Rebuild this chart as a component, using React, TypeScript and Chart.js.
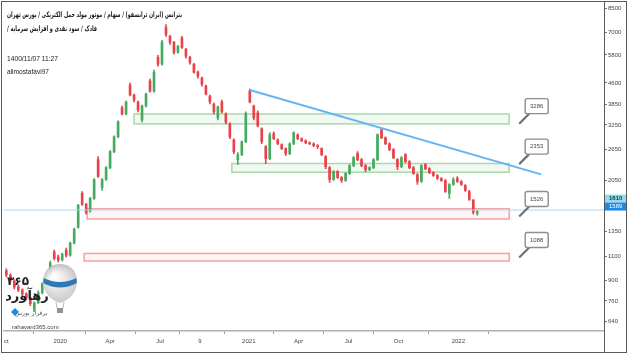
import React, { useEffect, useRef } from 'react';
import { Chart, registerables } from 'chart.js';
Chart.register(...registerables);

// ---- candle data (ایران ترانسفو) ----
const opens = [
  974, 942, 897, 854, 833, 806, 781, 707, 749, 813,
  875, 942, 1138, 1092, 1066, 1157, 1110, 1226, 1397, 1847,
  1687, 1594, 1772, 2441, 1940, 2072, 2286, 2607, 2949, 3741,
  3561, 4519, 4162, 3930, 3390, 3803, 4670, 4301, 5685, 5368,
  7272, 6754, 6430, 5923, 6645, 6071, 5685, 5368, 5027, 4786,
  4482, 4128, 3866, 3446, 3930, 3561, 3281, 2877, 2441, 2544,
  2830, 4301, 3803, 3591, 3149, 2717, 2462, 3022, 2877, 2762,
  2672, 2565, 2784, 2998, 2901, 2854, 2807, 2784, 2739, 2672,
  2502, 2286, 2072, 2212, 2106, 2055, 2176, 2324, 2565, 2441,
  2324, 2249, 2286, 2441, 3123, 2925, 2784, 2650, 2441, 2305,
  2544, 2402, 2286, 2159, 2038, 2343, 2267, 2194, 2141, 2089,
  2055, 1847, 1988, 2089, 2038, 1972, 1877, 1744, 1568,
];
const highs = [
  990, 950, 904, 868, 840, 813, 787, 755, 826, 882,
  958, 1057, 1157, 1110, 1129, 1176, 1236, 1386, 1687, 1877,
  1701, 1787, 2089, 2502, 2089, 2305, 2629, 2973, 3362, 3803,
  3962, 4594, 4196, 3962, 3834, 4231, 4747, 5110, 5779, 6537,
  7454, 6810, 6484, 6274, 6754, 6121, 5732, 5412, 5069, 4825,
  4519, 4162, 3898, 3803, 3995, 3591, 3308, 2901, 2586, 2854,
  3620, 4372, 3834, 3650, 3175, 2739, 3047, 3072, 2901, 2784,
  2694, 2807, 3072, 3022, 2925, 2877, 2830, 2807, 2762, 2694,
  2523, 2305, 2230, 2230, 2124, 2194, 2343, 2502, 2607, 2462,
  2343, 2305, 2462, 3022, 3175, 2949, 2807, 2672, 2462, 2502,
  2565, 2421, 2305, 2176, 2343, 2363, 2286, 2212, 2159, 2106,
  2072, 2005, 2106, 2124, 2055, 1988, 1893, 1758, 1607,
];
const lows = [
  927, 882, 840, 820, 793, 768, 731, 696, 743, 806,
  868, 934, 1066, 1048, 1057, 1092, 1101, 1216, 1386, 1673,
  1555, 1581, 1758, 2106, 1893, 2055, 2267, 2586, 2925, 3532,
  3532, 4128, 3930, 3620, 3335, 3772, 4266, 4266, 5281, 5324,
  6754, 6325, 5827, 5875, 6121, 5639, 5368, 4986, 4786, 4482,
  4162, 3866, 3561, 3390, 3591, 3281, 2901, 2565, 2343, 2523,
  2807, 3898, 3390, 3201, 2784, 2363, 2441, 2877, 2762, 2650,
  2523, 2544, 2762, 2877, 2830, 2784, 2762, 2717, 2672, 2523,
  2267, 2021, 2055, 2089, 2021, 2038, 2159, 2305, 2421, 2305,
  2212, 2230, 2267, 2421, 2901, 2762, 2629, 2462, 2249, 2286,
  2382, 2267, 2159, 1988, 2021, 2249, 2176, 2124, 2072, 2038,
  1862, 1772, 1972, 2021, 1972, 1877, 1744, 1555, 1542,
];
const closes = [
  942, 897, 854, 833, 806, 781, 743, 749, 813, 875,
  942, 1039, 1083, 1066, 1119, 1110, 1226, 1374, 1673, 1687,
  1581, 1772, 2072, 2124, 2072, 2286, 2607, 2949, 3335, 3561,
  3930, 4162, 3995, 3680, 3803, 4196, 4301, 5027, 5368, 6430,
  6866, 6430, 5923, 6222, 6171, 5732, 5457, 5027, 4865, 4556,
  4196, 3930, 3620, 3772, 3620, 3335, 2949, 2607, 2544, 2830,
  3561, 3930, 3446, 3227, 2830, 2462, 2998, 2901, 2784, 2672,
  2565, 2784, 3047, 2901, 2854, 2807, 2784, 2739, 2717, 2544,
  2305, 2072, 2212, 2106, 2055, 2176, 2324, 2482, 2441, 2324,
  2249, 2286, 2441, 2998, 2925, 2784, 2650, 2482, 2305, 2482,
  2402, 2286, 2176, 2038, 2324, 2267, 2194, 2141, 2089, 2055,
  1877, 1988, 2072, 2038, 1988, 1893, 1758, 1581, 1589,
];

// ---- axes ----
const xTickPositions = [0, 13.5, 26, 38.5, 48.5, 60.75, 73.25, 85.75, 98.25, 113.25];
const xTickLabels = ['ct', '2020', 'Apr', 'Jul', '9', '2021', 'Apr', 'Jul', 'Oct', '2022'];
const yTickValues = [8500, 7000, 5800, 4600, 3850, 3250, 2650, 2050, 1350, 1100, 900, 760, 640];

// ---- drawings ----
const zoneStarts = [32, 56.5, 20.25, 19.5];
const zoneEnds = [126, 126, 126, 126];
const zoneHighs = [3560, 2365, 1628, 1125];
const zoneLows = [3280, 2200, 1495, 1057];
const zoneKinds = ['green', 'green', 'red', 'red'];
const calloutValues = [3286, 2353, 1526, 1088];
const calloutX = 128.5;
const trendX = [61, 134];
const trendY = [4340, 2162];
const hLineValue = 1610;
const lastPrice = 1589;

const titleLine1 = 'بترانس (ایران ترانسفو) / سهام / موتور مولد حمل الکتریکی / بورس تهران';
const titleLine2 = 'فادک / سود نقدی و افزایش سرمایه /';
const dateText = '1400/11/07 11:27';
const userText = 'alimostafavi97';

const UP = '#46ab60';
const DOWN = '#e8424a';
const SANS = '"Liberation Sans", Arial, sans-serif';
const FA = '"DejaVu Sans", sans-serif';

function fitText(ctx: CanvasRenderingContext2D, text: string, xLeft: number, y: number, width: number, size: number, weight: string, family: string, color: string, rtl: boolean) {
  ctx.save();
  ctx.font = `${weight} ${size}px ${family}`;
  ctx.direction = rtl ? 'rtl' : 'ltr';
  const w = ctx.measureText(text).width;
  const sx = width / w;
  ctx.translate(xLeft, y);
  ctx.scale(sx, 1);
  ctx.textAlign = 'left';
  ctx.textBaseline = 'middle';
  ctx.fillStyle = color;
  ctx.fillText(text, 0, 0);
  ctx.restore();
}

const decor = {
  id: 'decor',
  beforeDatasetsDraw(chart: any) {
    const { ctx, scales } = chart;
    const x = scales.x, y = scales.y;
    ctx.save();
    for (let k = 0; k < zoneStarts.length; k++) {
      const x1 = x.getPixelForValue(zoneStarts[k]);
      const x2 = x.getPixelForValue(zoneEnds[k]);
      const y1 = y.getPixelForValue(zoneHighs[k]);
      const y2 = y.getPixelForValue(zoneLows[k]);
      const green = zoneKinds[k] === 'green';
      ctx.fillStyle = green ? 'rgba(129,199,132,0.10)' : 'rgba(239,83,80,0.06)';
      ctx.fillRect(x1, y1, x2 - x1, y2 - y1);
      ctx.strokeStyle = green ? '#a9d8aa' : '#f3a3a3';
      ctx.lineWidth = 1.5;
      ctx.strokeRect(x1, y1, x2 - x1, y2 - y1);
    }
    ctx.restore();
  },
  afterDraw(chart: any) {
    const { ctx, scales } = chart;
    const x = scales.x, y = scales.y;
    const area = chart.chartArea;
    ctx.save();

    // callouts
    for (const v of calloutValues) {
      const ax = x.getPixelForValue(calloutX);
      const ay = y.getPixelForValue(v);
      const left = ax + 6, bottom = ay - 10, w = 23, h = 15;
      ctx.strokeStyle = '#6f6f6f';
      ctx.lineWidth = 2.2;
      ctx.beginPath();
      ctx.moveTo(ax, ay);
      ctx.lineTo(left + 4, bottom);
      ctx.stroke();
      ctx.fillStyle = '#ffffff';
      ctx.strokeStyle = '#8d8d8d';
      ctx.lineWidth = 1.4;
      ctx.beginPath();
      (ctx as any).roundRect(left, bottom - h, w, h, 2);
      ctx.fill();
      ctx.stroke();
      ctx.fillStyle = '#3d4a55';
      ctx.font = `6px ${SANS}`;
      ctx.textAlign = 'center';
      ctx.textBaseline = 'middle';
      ctx.fillText(String(v), left + w / 2, bottom - h / 2);
    }

    // price labels on axis
    const lx = area.right + 1;
    const yh = y.getPixelForValue(hLineValue);
    ctx.fillStyle = '#8fdbe6';
    ctx.fillRect(lx, yh - 15.5, 21, 8);
    ctx.fillStyle = '#1e88e5';
    ctx.fillRect(lx, yh - 7.5, 21, 8);
    ctx.font = `bold 6px ${SANS}`;
    ctx.textAlign = 'left';
    ctx.textBaseline = 'middle';
    ctx.fillStyle = '#1b3a4b';
    ctx.fillText(String(hLineValue), lx + 4, yh - 11.5);
    ctx.fillStyle = '#ffffff';
    ctx.font = `6px ${SANS}`;
    ctx.fillText(String(lastPrice), lx + 4, yh - 3.5);

    // frame
    ctx.strokeStyle = '#5a5a5a';
    ctx.lineWidth = 1;
    ctx.strokeRect(1.5, 1.5, 625, 351);
    ctx.beginPath();
    ctx.moveTo(area.right + 0.5, 1.5);
    ctx.lineTo(area.right + 0.5, 352.5);
    ctx.stroke();

    // header texts
    fitText(ctx, titleLine1, 7, 15, 175, 7.5, 'bold', FA, '#1a1a1a', true);
    fitText(ctx, titleLine2, 7, 29, 90, 7.5, 'bold', FA, '#1a1a1a', true);
    fitText(ctx, dateText, 7, 59, 51, 7, 'normal', SANS, '#222', false);
    fitText(ctx, userText, 7, 72, 42, 7, 'normal', SANS, '#222', false);

    // watermark logo
    ctx.globalAlpha = 0.92;
    const grad = ctx.createRadialGradient(54, 276, 2, 60, 285, 21);
    grad.addColorStop(0, '#ffffff');
    grad.addColorStop(1, '#bcbcbc');
    ctx.beginPath();
    ctx.moveTo(60, 303);
    ctx.bezierCurveTo(50, 300, 43, 292, 43, 281);
    ctx.bezierCurveTo(43, 270, 51, 264, 60, 264);
    ctx.bezierCurveTo(69, 264, 77, 270, 77, 281);
    ctx.bezierCurveTo(77, 292, 70, 300, 60, 303);
    ctx.closePath();
    ctx.fillStyle = grad;
    ctx.fill();
    ctx.beginPath();
    ctx.moveTo(43.5, 278);
    ctx.quadraticCurveTo(60, 286, 76.5, 278);
    ctx.lineTo(76.8, 283);
    ctx.quadraticCurveTo(60, 292, 43.2, 283);
    ctx.closePath();
    ctx.fillStyle = '#1f6fb2';
    ctx.fill();
    ctx.strokeStyle = '#9a9a9a';
    ctx.lineWidth = 0.8;
    ctx.beginPath();
    ctx.moveTo(56, 302); ctx.lineTo(57, 308);
    ctx.moveTo(64, 302); ctx.lineTo(63, 308);
    ctx.stroke();
    ctx.fillStyle = '#8a8a8a';
    ctx.fillRect(57, 308, 6, 5);
    ctx.globalAlpha = 1;
    ctx.fillStyle = '#222';
    ctx.textAlign = 'center';
    ctx.textBaseline = 'middle';
    ctx.direction = 'rtl';
    ctx.font = `bold 12px ${FA}`;
    ctx.fillText('۳۶۵', 18, 282);
    ctx.font = `bold 13px ${FA}`;
    ctx.fillText('رهآورد', 27, 297);
    ctx.font = `6px ${FA}`;
    ctx.fillStyle = '#555';
    ctx.fillText('برفراز بورس', 31, 313);
    ctx.direction = 'ltr';
    ctx.fillStyle = '#1e88e5';
    ctx.beginPath();
    ctx.moveTo(15, 308); ctx.lineTo(19, 312); ctx.lineTo(15, 316); ctx.lineTo(11, 312);
    ctx.closePath();
    ctx.fill();
    ctx.fillStyle = '#444';
    ctx.font = `6px ${SANS}`;
    ctx.textAlign = 'left';
    ctx.fillText('rahavard365.com', 12, 327.5);

    ctx.restore();
  },
};

export default function App() {
  const ref = useRef<HTMLCanvasElement>(null);
  useEffect(() => {
    const canvas = ref.current!;
    const idx = closes.map((_, i) => i);
    const colors = idx.map((i) => (closes[i] >= opens[i] ? UP : DOWN));
    const chart = new Chart(canvas, {
      type: 'bar',
      data: {
        datasets: [
          {
            type: 'line',
            data: [{ x: trendX[0], y: trendY[0] }, { x: trendX[1], y: trendY[1] }],
            borderColor: '#64b5f6',
            borderWidth: 2,
            pointRadius: 0,
            order: 0,
          } as any,
          {
            type: 'line',
            data: [{ x: -0.75, y: hLineValue }, { x: 149.75, y: hLineValue }],
            borderColor: '#a9daec',
            borderWidth: 1,
            pointRadius: 0,
            order: 0,
          } as any,
          {
            type: 'bar',
            data: idx.map((i) => ({ x: i, y: [opens[i], closes[i]] })),
            backgroundColor: colors,
            barThickness: 2,
            minBarLength: 1,
            grouped: false,
            order: 1,
          } as any,
          {
            type: 'bar',
            data: idx.map((i) => ({ x: i, y: [lows[i], highs[i]] })),
            backgroundColor: colors,
            barThickness: 1,
            grouped: false,
            order: 2,
          } as any,
        ],
      },
      options: {
        responsive: false,
        animation: false,
        devicePixelRatio: 1,
        layout: { padding: { left: 2, top: 2, right: 2, bottom: 3 } },
        plugins: { legend: { display: false }, tooltip: { enabled: false } },
        scales: {
          x: {
            type: 'linear',
            min: -0.75,
            max: 149.75,
            offset: false,
            afterBuildTicks: (s: any) => { s.ticks = xTickPositions.map((v) => ({ value: v })); },
            afterFit: (s: any) => { s.height = 21; },
            ticks: {
              autoSkip: false,
              maxRotation: 0,
              padding: 4,
              font: { size: 6, family: SANS },
              color: '#444',
              callback: (_v: any, i: number) => xTickLabels[i],
            },
            grid: { drawOnChartArea: false, drawTicks: true, tickLength: 3, color: '#999' },
            border: { display: true, color: '#b0b0b0', width: 1.5 },
          },
          y: {
            type: 'logarithmic',
            position: 'right',
            min: 593,
            max: 8783,
            afterBuildTicks: (s: any) => { s.ticks = yTickValues.map((v) => ({ value: v })); },
            afterFit: (s: any) => { s.width = 22; },
            ticks: {
              autoSkip: false,
              padding: 1,
              font: { size: 6, family: SANS },
              color: '#444',
              callback: (v: any) => String(v),
            },
            grid: { drawOnChartArea: false, drawTicks: true, tickLength: 3, color: '#777' },
            border: { display: true, color: '#555' },
          },
        },
      } as any,
      plugins: [decor],
    });
    return () => chart.destroy();
  }, []);
  return (
    <div style={{ position: 'absolute', left: 0, top: 0, width: 628, height: 355, background: '#fff' }}>
      <canvas ref={ref} width={628} height={355} style={{ display: 'block' }} />
    </div>
  );
}
